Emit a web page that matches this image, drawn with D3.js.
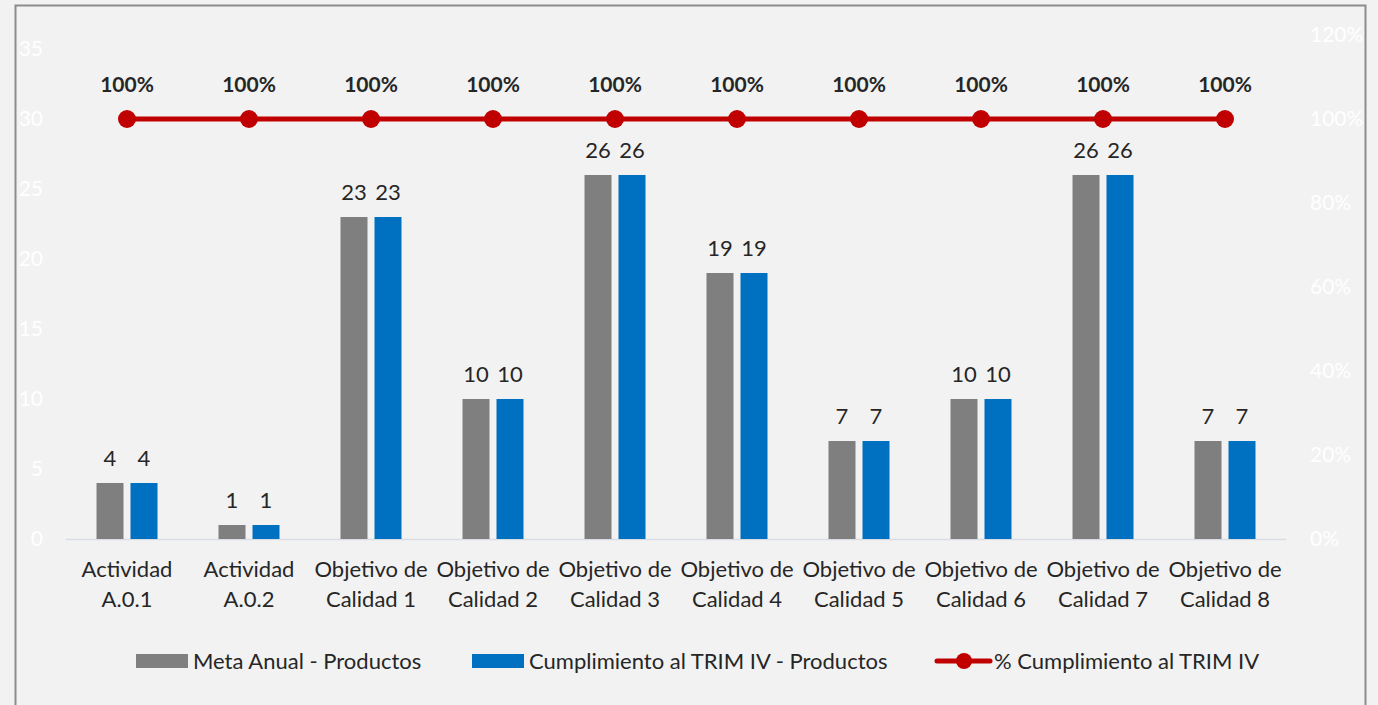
<!DOCTYPE html>
<html>
<head>
<meta charset="utf-8">
<script src="https://cdn.jsdelivr.net/npm/d3@7"></script>
<style>
  html, body { margin: 0; padding: 0; background: #ffffff; }
  svg { display: block; font-family: Lato, "Open Sans", sans-serif; }
</style>
</head>
<body>
<svg id="chart" width="1378" height="705"></svg>
<script>
const categories = [
  "Actividad\nA.0.1", "Actividad\nA.0.2",
  "Objetivo de\nCalidad 1", "Objetivo de\nCalidad 2", "Objetivo de\nCalidad 3",
  "Objetivo de\nCalidad 4", "Objetivo de\nCalidad 5", "Objetivo de\nCalidad 6",
  "Objetivo de\nCalidad 7", "Objetivo de\nCalidad 8"
];
const metaAnual = [4, 1, 23, 10, 26, 19, 7, 10, 26, 7];
const cumplimiento = [4, 1, 23, 10, 26, 19, 7, 10, 26, 7];
const pctCumplimiento = [100, 100, 100, 100, 100, 100, 100, 100, 100, 100];
const leftTicks = [0, 5, 10, 15, 20, 25, 30, 35];
const rightTicks = [0, 20, 40, 60, 80, 100, 120];
const seriesNames = ["Meta Anual - Productos", "Cumplimiento al TRIM IV - Productos", "% Cumplimiento al TRIM IV"];
const barColors = ["#7f7f7f", "#0070c0"];
const lineColor = "#c00000";

const svg = d3.select("#chart");
const W = 1378, H = 705;
const plot = { left: 66, right: 1286, top: 35, bottom: 539 };

// background + border
svg.append("rect").attr("x", 0).attr("y", 0).attr("width", W).attr("height", H).attr("fill", "#f2f2f2");
svg.append("rect").attr("x", 15.5).attr("y", 5.5).attr("width", 1350).attr("height", 720)
  .attr("fill", "none").attr("stroke", "#8c8c8c").attr("stroke-width", 2);

const x0 = d3.scaleBand().domain(d3.range(categories.length))
  .range([plot.left, plot.right]).paddingInner(0.5).paddingOuter(0.25);
const x1 = d3.scaleBand().domain([0, 1]).range([0, x0.bandwidth()]).paddingInner(7 / 34).paddingOuter(0);
const yL = d3.scaleLinear().domain([0, 36]).range([plot.bottom, plot.top]);
const yR = d3.scaleLinear().domain([0, 120]).range([plot.bottom, plot.top]);

const textColor = "#262626";
const fs = 21;
const fsText = 22;

// left axis (white labels)
const axL = svg.append("g").attr("transform", `translate(${plot.left},0)`)
  .call(d3.axisLeft(yL).tickValues(leftTicks).tickSize(0).tickPadding(23));
axL.select(".domain").remove();
axL.selectAll("text").attr("fill", "#ffffff").style("font-size", fs + "px").style("font-family", "Lato");

// right axis
const axR = svg.append("g").attr("transform", `translate(${plot.right},0)`)
  .call(d3.axisRight(yR).tickValues(rightTicks).tickSize(0).tickPadding(24).tickFormat(d => d + "%"));
axR.select(".domain").remove();
axR.selectAll("text").attr("fill", "#ffffff").style("font-size", fs + "px").style("font-family", "Lato");

// bottom axis line
svg.append("line").attr("x1", plot.left).attr("x2", plot.right)
  .attr("y1", plot.bottom + 0.5).attr("y2", plot.bottom + 0.5)
  .attr("stroke", "#d9dde3").attr("stroke-width", 1.5);

// category labels
const axB = svg.append("g").attr("transform", `translate(0,${plot.bottom})`)
  .call(d3.axisBottom(x0).tickSize(0).tickFormat(""));
axB.select(".domain").remove();
axB.selectAll(".tick").each(function(d) {
  const lines = categories[d].split("\n");
  const t = d3.select(this).append("text").attr("fill", textColor)
    .attr("text-anchor", "middle").style("font-size", fsText + "px").style("font-family", "Lato");
  lines.forEach((ln, i) => {
    t.append("tspan").attr("x", 0).attr("y", 38 + i * 30).text(ln);
  });
});

// bars
const series = [metaAnual, cumplimiento];
series.forEach((vals, si) => {
  const g = svg.append("g");
  g.selectAll("rect").data(vals).join("rect")
    .attr("x", (d, i) => x0(i) + x1(si))
    .attr("y", d => yL(d))
    .attr("width", x1.bandwidth())
    .attr("height", d => yL(0) - yL(d))
    .attr("fill", barColors[si]);
  g.selectAll("text").data(vals).join("text")
    .attr("x", (d, i) => x0(i) + x1(si) + x1.bandwidth() / 2)
    .attr("y", d => yL(d) - 17)
    .attr("text-anchor", "middle")
    .attr("fill", textColor)
    .style("font-size", fsText + "px")
    .text(d => d);
});

// line
const cx = i => x0(i) + x0.bandwidth() / 2;
const line = d3.line().x((d, i) => cx(i)).y(d => yR(d));
svg.append("path").datum(pctCumplimiento).attr("d", line)
  .attr("fill", "none").attr("stroke", lineColor).attr("stroke-width", 5).attr("stroke-linecap", "round");
svg.append("g").selectAll("circle").data(pctCumplimiento).join("circle")
  .attr("cx", (d, i) => cx(i)).attr("cy", d => yR(d)).attr("r", 9).attr("fill", lineColor);
svg.append("g").selectAll("text").data(pctCumplimiento).join("text")
  .attr("x", (d, i) => cx(i)).attr("y", d => yR(d) - 27)
  .attr("text-anchor", "middle").attr("fill", textColor)
  .style("font-size", fs + "px").style("font-weight", "bold")
  .text(d => d + "%");

// legend
const lg = svg.append("g").style("font-size", fsText + "px").attr("fill", textColor);
const ly = 661;
lg.append("rect").attr("x", 136).attr("y", ly - 7).attr("width", 52).attr("height", 14).attr("fill", barColors[0]);
lg.append("text").attr("x", 193).attr("y", ly).attr("dy", "0.35em").text(seriesNames[0]);
lg.append("rect").attr("x", 472).attr("y", ly - 7).attr("width", 52).attr("height", 14).attr("fill", barColors[1]);
lg.append("text").attr("x", 529).attr("y", ly).attr("dy", "0.35em").text(seriesNames[1]);
lg.append("line").attr("x1", 937).attr("x2", 990).attr("y1", ly).attr("y2", ly)
  .attr("stroke", lineColor).attr("stroke-width", 5).attr("stroke-linecap", "round");
lg.append("circle").attr("cx", 964).attr("cy", ly).attr("r", 8).attr("fill", lineColor);
lg.append("text").attr("x", 994).attr("y", ly).attr("dy", "0.35em").text(seriesNames[2]);
</script>
</body>
</html>
